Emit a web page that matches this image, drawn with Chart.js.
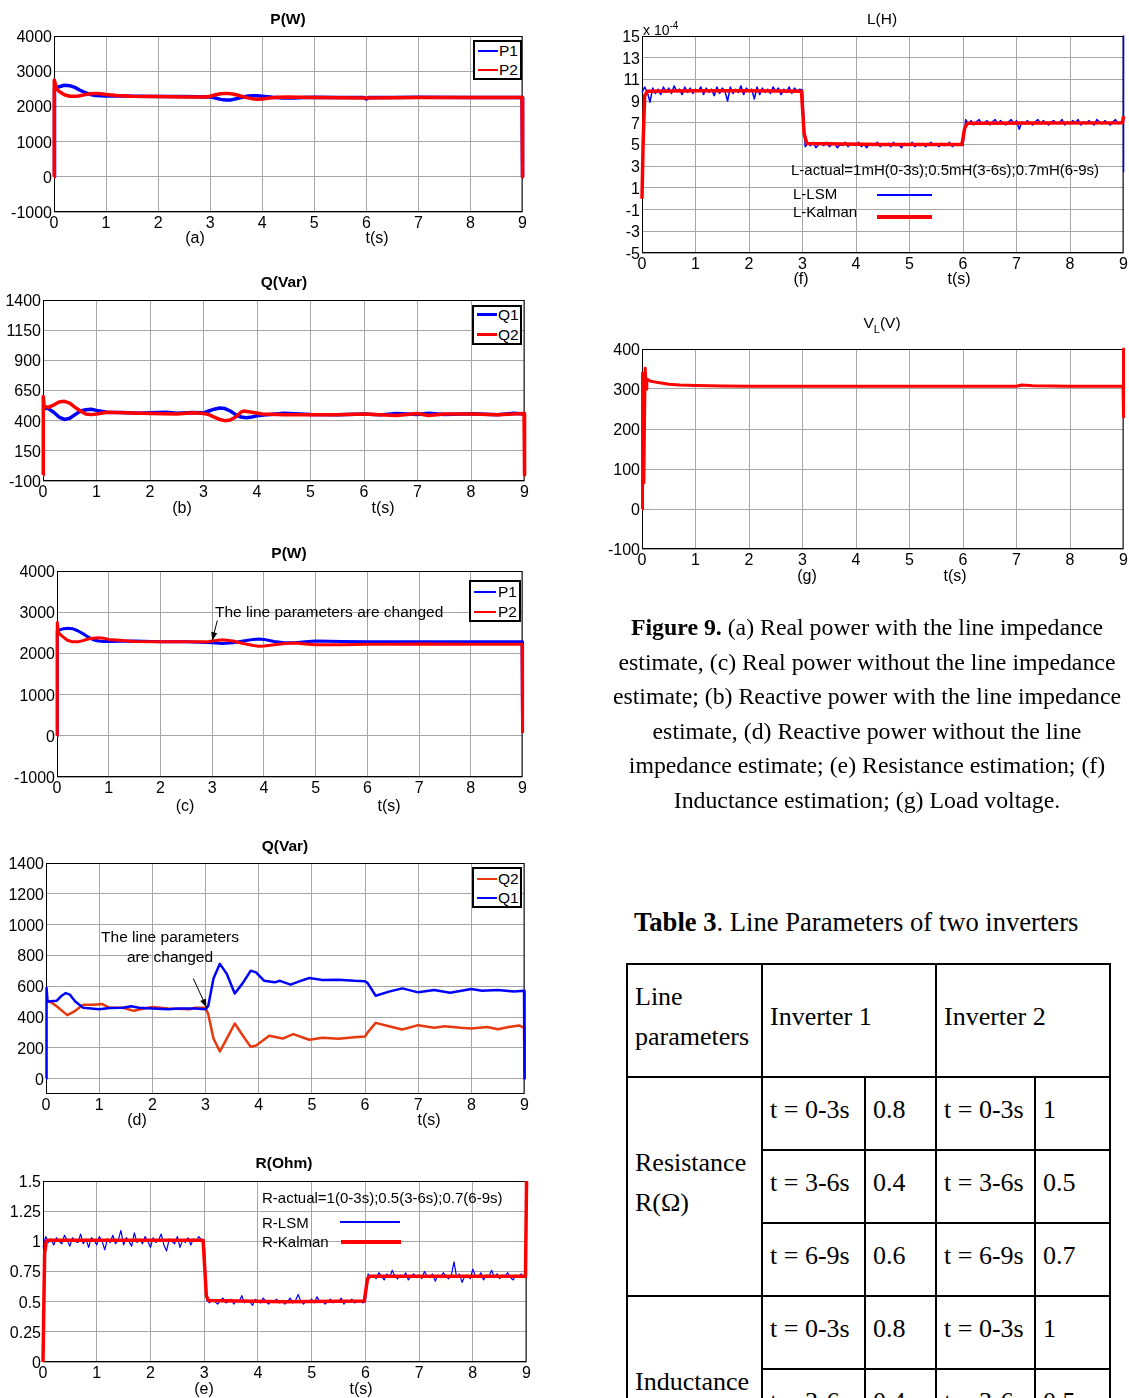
<!DOCTYPE html>
<html>
<head>
<meta charset="utf-8">
<script src="https://cdn.jsdelivr.net/npm/chart.js@4.4.0/dist/chart.umd.min.js"></script>
<style>
  html, body { margin: 0; padding: 0; background: #fff; }
  body { width: 1129px; height: 1398px; overflow: hidden; position: relative; font-family: "Liberation Sans", Arial, sans-serif; color: #000; }
  canvas { position: absolute; }
  .abs { position: absolute; white-space: nowrap; line-height: 1; }
  .c { transform: translate(-50%, -50%); }
  .l { transform: translateY(-50%); }
  .ttl { font-weight: bold; font-size: 15.5px; }
  .lab { font-size: 16px; }
  .note { font-size: 15.5px; }
  .leg { position: absolute; border: 2px solid #000; background: #fff; box-sizing: border-box; }
  .sw { position: absolute; }
  .serif { font-family: "Liberation Serif", "Times New Roman", serif; }
  #caption { position: absolute; left: 600px; top: 610px; width: 534px; text-align: center; font-size: 23.8px; line-height: 34.6px; }
  #tbl { position: absolute; left: 626px; top: 963px; border-collapse: collapse; table-layout: fixed; font-size: 26px; }
  #tbl td { border: 2px solid #000; padding: 0 0 8px 7px; vertical-align: middle; line-height: 40px; }
</style>
</head>
<body>

<!-- panel titles and axis captions -->
<div class="abs c ttl" style="left:288px;top:19px">P(W)</div>
<div class="abs c lab" style="left:195px;top:238px">(a)</div>
<div class="abs c lab" style="left:377px;top:238px">t(s)</div>

<div class="abs c ttl" style="left:284px;top:282px">Q(Var)</div>
<div class="abs c lab" style="left:182px;top:508px">(b)</div>
<div class="abs c lab" style="left:383px;top:508px">t(s)</div>

<div class="abs c ttl" style="left:289px;top:553px">P(W)</div>
<div class="abs c lab" style="left:185px;top:806px">(c)</div>
<div class="abs c lab" style="left:389px;top:806px">t(s)</div>
<div class="abs l note" style="left:215px;top:612px">The line parameters are changed</div>

<div class="abs c ttl" style="left:285px;top:846px">Q(Var)</div>
<div class="abs c lab" style="left:137px;top:1120px">(d)</div>
<div class="abs c lab" style="left:429px;top:1120px">t(s)</div>
<div class="abs c note" style="left:170px;top:937px">The line parameters</div>
<div class="abs c note" style="left:170px;top:957px">are changed</div>

<div class="abs c ttl" style="left:284px;top:1163px">R(Ohm)</div>
<div class="abs c lab" style="left:204px;top:1389px">(e)</div>
<div class="abs c lab" style="left:361px;top:1389px">t(s)</div>
<div class="abs l note" style="left:262px;top:1197px;font-size:15px">R-actual=1(0-3s);0.5(3-6s);0.7(6-9s)</div>
<div class="abs l note" style="left:262px;top:1222px;font-size:15px">R-LSM</div>
<div class="abs l note" style="left:262px;top:1241px;font-size:15px">R-Kalman</div>
<div class="sw" style="left:340px;top:1221px;width:60px;height:1.5px;background:#0000ff"></div>
<div class="sw" style="left:341px;top:1240px;width:60px;height:4px;background:#ff0000"></div>

<div class="abs c" style="left:882px;top:19px;font-size:15.5px">L(H)</div>
<div class="abs l" style="left:643px;top:29px;font-size:14px">x 10<sup style="font-size:10px;vertical-align:6px">-4</sup></div>
<div class="abs c lab" style="left:801px;top:279px">(f)</div>
<div class="abs c lab" style="left:959px;top:279px">t(s)</div>
<div class="abs l note" style="left:791px;top:169px;font-size:15px">L-actual=1mH(0-3s);0.5mH(3-6s);0.7mH(6-9s)</div>
<div class="abs l note" style="left:793px;top:193px;font-size:15px">L-LSM</div>
<div class="abs l note" style="left:793px;top:211px;font-size:15px">L-Kalman</div>
<div class="sw" style="left:877px;top:194px;width:55px;height:1.5px;background:#0000ff"></div>
<div class="sw" style="left:877px;top:215px;width:55px;height:4px;background:#ff0000"></div>

<div class="abs c" style="left:882px;top:325px;font-size:15.5px">V<sub style="font-size:11px;vertical-align:-5px">L</sub>(V)</div>
<div class="abs c lab" style="left:807px;top:576px">(g)</div>
<div class="abs c lab" style="left:955px;top:576px">t(s)</div>

<!-- MATLAB style legend boxes -->
<div class="leg" style="left:473px;top:40px;width:49px;height:40px">
  <div class="sw" style="left:3px;top:8px;width:20px;height:1.5px;background:#0000ff"></div>
  <div class="abs l" style="left:24px;top:9px;font-size:15.5px">P1</div>
  <div class="sw" style="left:3px;top:27px;width:20px;height:1.5px;background:#ff0000"></div>
  <div class="abs l" style="left:24px;top:28px;font-size:15.5px">P2</div>
</div>
<div class="leg" style="left:472px;top:305px;width:50px;height:40px">
  <div class="sw" style="left:3px;top:6px;width:20px;height:3px;background:#0000ff"></div>
  <div class="abs l" style="left:24px;top:8px;font-size:15.5px">Q1</div>
  <div class="sw" style="left:3px;top:26px;width:20px;height:3px;background:#ff0000"></div>
  <div class="abs l" style="left:24px;top:28px;font-size:15.5px">Q2</div>
</div>
<div class="leg" style="left:469px;top:580px;width:52px;height:42px">
  <div class="sw" style="left:3px;top:9px;width:22px;height:1.5px;background:#0000ff"></div>
  <div class="abs l" style="left:27px;top:10px;font-size:15.5px">P1</div>
  <div class="sw" style="left:3px;top:29px;width:22px;height:1.5px;background:#ff0000"></div>
  <div class="abs l" style="left:27px;top:30px;font-size:15.5px">P2</div>
</div>
<div class="leg" style="left:472px;top:867px;width:50px;height:41px">
  <div class="sw" style="left:3px;top:9px;width:20px;height:1.5px;background:#e8380d"></div>
  <div class="abs l" style="left:24px;top:10px;font-size:15.5px">Q2</div>
  <div class="sw" style="left:3px;top:28px;width:20px;height:1.5px;background:#0000ff"></div>
  <div class="abs l" style="left:24px;top:29px;font-size:15.5px">Q1</div>
</div>

<div id="caption" class="serif">
<b>Figure 9.</b> (a) Real power with the line impedance<br>
estimate, (c) Real power without the line impedance<br>
estimate; (b) Reactive power with the line impedance<br>
estimate, (d) Reactive power without the line<br>
impedance estimate; (e) Resistance estimation; (f)<br>
Inductance estimation; (g) Load voltage.
</div>

<div class="abs l serif" style="left:634px;top:922px;font-size:26.6px"><b>Table 3</b>. Line Parameters of two inverters</div>

<table id="tbl" class="serif"></table>

<script>
// ---------- data ----------
const T_TICKS = [0, 1, 2, 3, 4, 5, 6, 7, 8, 9];

// (a) real power with line impedance estimate, W
const aP1 = [[0,0],[0.01,2500],[0.1,2560],[0.2,2600],[0.3,2590],[0.4,2540],[0.5,2460],[0.6,2390],[0.7,2340],[0.8,2310],[0.9,2300],[1.0,2295],[1.2,2300],[1.5,2290],[2.0,2280],[2.5,2280],[3.0,2270],[3.1,2240],[3.2,2200],[3.3,2180],[3.4,2185],[3.5,2215],[3.6,2255],[3.7,2290],[3.8,2305],[3.9,2305],[4.0,2290],[4.2,2260],[4.4,2240],[4.6,2240],[4.8,2250],[5.0,2260],[5.5,2255],[5.95,2250],[6.0,2210],[6.05,2250],[6.5,2255],[7.0,2260],[8.0,2255],[8.99,2255],[9.0,0]];
const aP2 = [[0,0],[0.005,2750],[0.05,2500],[0.1,2420],[0.2,2330],[0.3,2290],[0.4,2285],[0.5,2305],[0.6,2335],[0.7,2360],[0.8,2370],[0.9,2360],[1.0,2340],[1.2,2310],[1.5,2290],[2.0,2280],[2.5,2270],[2.9,2270],[3.0,2290],[3.1,2330],[3.2,2360],[3.3,2370],[3.4,2360],[3.5,2330],[3.6,2290],[3.7,2250],[3.8,2220],[3.9,2205],[4.0,2210],[4.1,2230],[4.3,2260],[4.5,2270],[4.7,2260],[5.0,2250],[6.0,2240],[7.0,2250],[8.0,2250],[8.99,2250],[9.0,0]];
const A_TICKS = [-1000, 0, 1000, 2000, 3000, 4000];

// (b) reactive power with line impedance estimate, Var
const bQ1 = [[0,500],[0.1,500],[0.2,470],[0.3,430],[0.4,410],[0.5,420],[0.6,450],[0.7,480],[0.8,490],[0.9,495],[1.0,485],[1.2,470],[1.5,468],[1.8,462],[2.0,466],[2.3,470],[2.5,462],[2.8,468],[3.0,465],[3.1,480],[3.2,495],[3.3,505],[3.4,500],[3.5,480],[3.6,450],[3.7,430],[3.8,425],[3.9,430],[4.0,440],[4.2,450],[4.5,462],[4.8,455],[5.0,452],[5.5,450],[6.0,455],[6.3,448],[6.6,460],[7.0,452],[7.2,462],[7.5,452],[8.0,458],[8.5,450],[8.8,462],[9.0,455]];
const bQ2 = [[0,-50],[0.005,600],[0.02,520],[0.1,510],[0.2,530],[0.3,555],[0.4,560],[0.5,545],[0.6,510],[0.7,480],[0.8,455],[0.9,450],[1.0,455],[1.2,470],[1.5,465],[2.0,460],[2.5,455],[2.8,465],[3.0,460],[3.1,450],[3.2,430],[3.3,410],[3.4,400],[3.5,405],[3.6,430],[3.7,470],[3.75,480],[3.9,470],[4.1,455],[4.5,450],[5.0,450],[5.5,450],[6.0,455],[6.6,443],[7.0,460],[7.2,443],[7.5,455],[8.0,455],[8.5,450],[8.99,460],[9.0,-50]];
const B_TICKS = [-100, 150, 400, 650, 900, 1150, 1400];

// (c) real power without line impedance estimate, W
const cP1 = [[0,0],[0.005,2550],[0.1,2590],[0.2,2610],[0.3,2600],[0.4,2550],[0.5,2480],[0.6,2400],[0.7,2330],[0.8,2300],[0.9,2290],[1.0,2290],[1.5,2300],[2.0,2280],[2.5,2280],[3.0,2260],[3.2,2240],[3.4,2260],[3.6,2300],[3.8,2340],[3.9,2350],[4.0,2340],[4.2,2290],[4.4,2260],[4.6,2260],[4.8,2280],[5.0,2300],[5.5,2290],[6.0,2280],[6.5,2280],[7.0,2285],[8.0,2285],[8.99,2280],[9.0,100]];
const cP2 = [[0,0],[0.005,2750],[0.03,2500],[0.1,2420],[0.2,2320],[0.3,2280],[0.4,2280],[0.5,2310],[0.6,2350],[0.7,2370],[0.8,2380],[0.9,2370],[1.0,2340],[1.2,2320],[1.5,2290],[2.0,2280],[2.5,2280],[2.9,2280],[3.0,2300],[3.2,2330],[3.4,2300],[3.6,2240],[3.8,2190],[3.9,2175],[4.0,2180],[4.2,2210],[4.4,2240],[4.6,2250],[4.8,2230],[5.0,2210],[5.5,2210],[6.0,2220],[6.5,2220],[7.0,2230],[8.0,2220],[8.99,2220],[9.0,100]];

// (d) reactive power without line impedance estimate, Var
const dQ1 = [[0,0],[0.01,590],[0.03,500],[0.2,505],[0.3,540],[0.37,555],[0.45,545],[0.55,500],[0.7,460],[0.85,455],[1.0,450],[1.2,458],[1.45,460],[1.6,470],[1.75,460],[2.0,455],[2.3,450],[2.5,455],[2.8,455],[3.0,450],[3.05,470],[3.15,650],[3.27,745],[3.4,680],[3.55,553],[3.7,620],[3.85,701],[3.95,690],[4.1,636],[4.3,625],[4.4,635],[4.6,610],[4.75,630],[4.95,653],[5.2,640],[5.5,642],[5.8,635],[6.0,632],[6.05,620],[6.2,538],[6.45,565],[6.7,586],[7.0,560],[7.3,575],[7.6,558],[8.0,582],[8.2,570],[8.5,575],[8.8,565],[8.99,571],[9.0,0]];
const dQ2 = [[0,500],[0.1,495],[0.2,470],[0.4,412],[0.55,440],[0.7,480],[0.9,480],[1.05,485],[1.2,460],[1.45,460],[1.65,440],[1.85,455],[2.0,465],[2.3,455],[2.7,450],[2.8,460],[3.0,460],[3.05,420],[3.15,260],[3.27,176],[3.4,260],[3.55,358],[3.7,280],[3.85,206],[3.95,215],[4.2,278],[4.45,260],[4.65,289],[4.95,252],[5.2,265],[5.5,258],[5.8,268],[6.0,273],[6.05,300],[6.2,362],[6.45,340],[6.7,319],[7.0,347],[7.3,330],[7.5,340],[7.8,330],[8.0,326],[8.3,335],[8.5,320],[8.7,335],[8.9,345],[8.99,330],[9.0,0]];
const D_TICKS = [0, 200, 400, 600, 800, 1000, 1200, 1400];

// (e) resistance estimate, Ohm. LSM sampled every 0.05 s from t = 0
const NOISE_DT = 0.05;
const eLsm = [0.95,
  1.04,0.99,1.02,0.97,1.03,1.00,0.98,1.05,1.01,0.96, 1.03,1.00,0.99,1.06,0.98,1.02,0.95,1.03,1.01,0.97,
  1.04,1.00,0.93,1.02,0.99,1.05,0.98,1.01,1.09,0.97, 1.03,1.00,0.96,1.07,0.99,1.02,0.98,1.04,1.00,0.95,
  1.03,0.99,1.01,1.06,0.97,0.92,1.02,1.00,0.98,1.04, 0.95,1.01,0.99,1.03,0.97,1.02,1.00,1.04,1.01,
  1.00,
  0.51,0.49,0.52,0.50,0.48,0.51,0.53,0.49,0.50,0.52, 0.48,0.51,0.50,0.55,0.49,0.51,0.50,0.47,0.52,0.50,
  0.49,0.53,0.50,0.48,0.51,0.50,0.52,0.49,0.51,0.48, 0.50,0.53,0.49,0.51,0.56,0.50,0.48,0.51,0.50,0.52,
  0.49,0.54,0.50,0.51,0.48,0.50,0.52,0.49,0.51,0.50, 0.53,0.48,0.51,0.50,0.52,0.49,0.50,0.51,0.49,
  0.50,
  0.73,0.70,0.72,0.69,0.74,0.71,0.68,0.73,0.70,0.76, 0.71,0.69,0.72,0.70,0.74,0.68,0.71,0.73,0.70,0.72,
  0.69,0.75,0.71,0.70,0.73,0.67,0.72,0.70,0.74,0.71, 0.69,0.72,0.83,0.70,0.73,0.66,0.71,0.72,0.69,0.77,
  0.71,0.70,0.74,0.68,0.72,0.71,0.76,0.70,0.73,0.69, 0.72,0.71,0.74,0.70,0.68,0.72,0.71,0.73,0.70,
  0.71];
const eKalman = [[0,0],[0.03,0.9],[0.06,1.0],[0.1,1.01],[1.0,1.01],[2.0,1.01],[2.98,1.01],[3.04,0.55],[3.08,0.51],[4.5,0.5],[5.98,0.505],[6.04,0.69],[6.08,0.71],[8.98,0.71],[9.0,1.5]];
const E_TICKS = [0, 0.25, 0.5, 0.75, 1, 1.25, 1.5];

// (f) inductance estimate, x1e-4 H. LSM sampled every 0.05 s from t = 0
const fLsm = [9.8,
  10.3,9.8,8.9,10.2,9.7,10.1,9.6,10.3,9.8,10.2, 9.7,10.4,9.9,10.1,9.6,10.3,9.8,10.2,9.7,10.1,
  9.9,10.3,9.6,10.2,9.8,10.1,9.5,10.3,9.7,10.2, 9.9,9.0,10.3,9.7,10.1,9.8,10.4,9.6,10.2,9.9,
  10.1,9.2,10.3,9.6,10.2,9.8,10.1,9.7,10.3,9.9, 10.2,9.6,10.1,9.8,10.3,9.7,10.2,9.9,10.1,
  10.0,
  4.8,5.1,4.9,5.2,4.7,5.0,5.1,4.9,5.2,4.8, 5.0,5.1,4.7,5.0,4.9,5.2,4.8,5.1,5.0,4.9,
  5.2,4.8,5.0,4.7,5.1,4.9,5.0,5.2,4.8,5.0, 4.9,5.1,4.8,5.2,4.9,5.0,4.7,5.1,4.9,5.0,
  5.2,4.8,5.0,4.9,5.1,4.8,5.0,5.2,4.9,5.0, 4.8,5.1,4.9,5.0,5.2,4.8,5.0,4.9,5.1,
  4.9,
  7.3,6.9,7.2,6.8,7.1,7.3,6.9,7.0,7.2,6.8, 7.1,7.3,6.9,7.2,7.0,6.8,7.1,7.3,6.9,7.2,
  6.4,7.1,6.9,7.2,7.0,6.8,7.1,7.3,6.9,7.2, 7.0,6.8,7.1,7.2,6.9,7.0,7.3,6.8,7.1,6.9,
  7.2,7.0,7.3,6.8,7.1,6.9,7.2,7.0,6.8,7.3, 7.1,6.9,7.2,7.0,6.8,7.1,7.3,6.9,7.1,
  7.0];
const fLsmTail = [[9.0,15],[9.0,2.5]];
const fKalman = [[0,0],[0.02,5],[0.05,9.5],[0.1,9.9],[1.0,9.95],[2.0,9.95],[2.98,9.9],[3.03,6],[3.08,5.1],[4.5,5.0],[5.98,5.0],[6.03,6.5],[6.08,6.95],[8.98,7.0],[9.0,7.6]];
const F_TICKS = [-5, -3, -1, 1, 3, 5, 7, 9, 11, 13, 15];

// (g) load voltage, V
const gVL = [[0,0],[0.01,340],[0.02,200],[0.035,65],[0.05,250],[0.06,352],[0.075,300],[0.09,325],[0.15,320],[0.3,316],[0.5,312],[0.7,310],[1.0,309],[1.5,307.5],[2.0,307],[3.0,307],[4.0,307],[5.0,307],[6.0,307],[7.0,307],[7.1,310],[7.3,308],[8.0,307],[8.99,307],[9.0,400],[9.0,230]];
const G_TICKS = [-100, 0, 100, 200, 300, 400];

// Table 3
const tblHead = ['Line<br>parameters', 'Inverter 1', 'Inverter 2'];
const tblPeriods = ['t = 0-3s', 't = 3-6s', 't = 6-9s'];
const tblR1 = ['0.8', '0.4', '0.6'];
const tblR2 = ['1', '0.5', '0.7'];
const tblL1 = ['0.8', '0.4', '0.6'];
const tblL2 = ['1', '0.5', '0.7'];

// ---------- drawing ----------
const BLUE = '#0000ff', RED = '#ff0000', ORANGE = '#e8380d';
const GRID = '#a6a6a6';
const PAD_L = 60, PAD_T = 12, PAD_B = 26, PAD_R = 6;

const pairs = arr => arr.map(p => ({ x: p[0], y: p[1] }));
const sampled = (vals, tail) => vals.map((v, i) => ({ x: +(i * NOISE_DT).toFixed(2), y: v })).concat(pairs(tail || []));

const frame = {
  id: 'frame',
  beforeDatasetsDraw(chart) {
    const a = chart.chartArea, ctx = chart.ctx;
    ctx.save();
    ctx.strokeStyle = '#000';
    ctx.lineWidth = 1;
    ctx.strokeRect(a.left + 0.5, a.top + 0.5, a.right - a.left - 1, a.bottom - a.top - 1);
    ctx.restore();
  }
};

function arrows(list) {
  return {
    id: 'arrows',
    afterDatasetsDraw(chart) {
      const { ctx, scales: { x, y } } = chart;
      list.forEach(a => {
        const x1 = x.getPixelForValue(a.from[0]), y1 = y.getPixelForValue(a.from[1]);
        const x2 = x.getPixelForValue(a.to[0]), y2 = y.getPixelForValue(a.to[1]);
        const ang = Math.atan2(y2 - y1, x2 - x1);
        ctx.save();
        ctx.strokeStyle = '#000'; ctx.fillStyle = '#000'; ctx.lineWidth = 1;
        ctx.beginPath(); ctx.moveTo(x1, y1); ctx.lineTo(x2, y2); ctx.stroke();
        ctx.beginPath(); ctx.moveTo(x2, y2);
        ctx.lineTo(x2 - 9 * Math.cos(ang - 0.35), y2 - 9 * Math.sin(ang - 0.35));
        ctx.lineTo(x2 - 9 * Math.cos(ang + 0.35), y2 - 9 * Math.sin(ang + 0.35));
        ctx.closePath(); ctx.fill();
        ctx.restore();
      });
    }
  };
}

// series are listed bottom-to-top; Chart.js paints dataset 0 last, so reverse
function plot(box, yMin, yMax, yTicks, series, marks) {
  const cv = document.createElement('canvas');
  const w = box.r - box.l + PAD_L + PAD_R, h = box.b - box.t + PAD_T + PAD_B;
  cv.width = w; cv.height = h;
  cv.style.left = (box.l - PAD_L) + 'px';
  cv.style.top = (box.t - PAD_T) + 'px';
  cv.style.width = w + 'px'; cv.style.height = h + 'px';
  document.body.insertBefore(cv, document.body.firstChild);
  const tickFont = { family: '"Liberation Sans", Arial, sans-serif', size: 16 };
  return new Chart(cv, {
    type: 'line',
    data: {
      datasets: series.slice().reverse().map(s => ({
        data: s.data, borderColor: s.color, borderWidth: s.width,
        pointRadius: 0, tension: 0, fill: false, clip: false, borderJoinStyle: 'round'
      }))
    },
    options: {
      responsive: false, animation: false, events: [],
      layout: { padding: { top: PAD_T, right: PAD_R, left: 0, bottom: 0 } },
      plugins: { legend: { display: false }, tooltip: { enabled: false } },
      scales: {
        x: {
          type: 'linear', min: 0, max: 9,
          afterFit: s => { s.height = PAD_B; },
          afterBuildTicks: s => { s.ticks = T_TICKS.map(v => ({ value: v })); },
          grid: { color: GRID, drawTicks: false },
          border: { display: false },
          ticks: { padding: 2, color: '#000', font: tickFont, maxRotation: 0, autoSkip: false, callback: v => String(v) }
        },
        y: {
          type: 'linear', min: yMin, max: yMax,
          afterFit: s => { s.width = PAD_L; },
          afterBuildTicks: s => { s.ticks = yTicks.map(v => ({ value: v })); },
          grid: { color: GRID, drawTicks: false },
          border: { display: false },
          ticks: { padding: 2, labelOffset: 1.5, color: '#000', font: tickFont, autoSkip: false, callback: v => String(v) }
        }
      }
    },
    plugins: [frame, arrows(marks || [])]
  });
}

plot({ l: 54, t: 36, r: 523, b: 212 }, -1000, 4000, A_TICKS, [
  { data: pairs(aP1), color: BLUE, width: 3.5 },
  { data: pairs(aP2), color: RED, width: 3.5 }
]);
plot({ l: 43, t: 300, r: 525, b: 481 }, -100, 1400, B_TICKS, [
  { data: pairs(bQ1), color: BLUE, width: 3.5 },
  { data: pairs(bQ2), color: RED, width: 3.5 }
]);
plot({ l: 57, t: 571, r: 523, b: 777 }, -1000, 4000, A_TICKS, [
  { data: pairs(cP1), color: BLUE, width: 3 },
  { data: pairs(cP2), color: RED, width: 3 }
], [{ from: [3.1, 2800], to: [3.0, 2310] }]);
plot({ l: 46, t: 863, r: 525, b: 1094 }, -100, 1400, D_TICKS, [
  { data: pairs(dQ2), color: ORANGE, width: 2.5 },
  { data: pairs(dQ1), color: BLUE, width: 2.5 }
], [{ from: [2.77, 650], to: [3.02, 462] }]);
plot({ l: 43, t: 1181, r: 527, b: 1362 }, 0, 1.5, E_TICKS, [
  { data: sampled(eLsm), color: BLUE, width: 1.2 },
  { data: pairs(eKalman), color: RED, width: 3.5 }
]);
plot({ l: 642, t: 36, r: 1124, b: 253 }, -5, 15, F_TICKS, [
  { data: sampled(fLsm, fLsmTail), color: BLUE, width: 1.5 },
  { data: pairs(fKalman), color: RED, width: 3.5 }
]);
plot({ l: 642, t: 349, r: 1124, b: 549 }, -100, 400, G_TICKS, [
  { data: pairs(gVL), color: RED, width: 3 }
]);

// table
const tbl = document.getElementById('tbl');
const colW = [135, 103, 71, 99, 75];
let html = '<colgroup>' + colW.map(w => '<col style="width:' + w + 'px">').join('') + '</colgroup>';
html += '<tr style="height:113px"><td>' + tblHead[0] + '</td><td colspan="2">' + tblHead[1] + '</td><td colspan="2">' + tblHead[2] + '</td></tr>';
const block = (name, v1, v2) => tblPeriods.map((p, i) =>
  '<tr style="height:73px">' + (i === 0 ? '<td rowspan="3">' + name + '</td>' : '') +
  '<td>' + p + '</td><td>' + v1[i] + '</td><td>' + p + '</td><td>' + v2[i] + '</td></tr>').join('');
html += block('Resistance<br>R(&Omega;)', tblR1, tblR2);
html += block('Inductance<br>L(mH)', tblL1, tblL2);
tbl.innerHTML = html;
</script>
</body>
</html>
